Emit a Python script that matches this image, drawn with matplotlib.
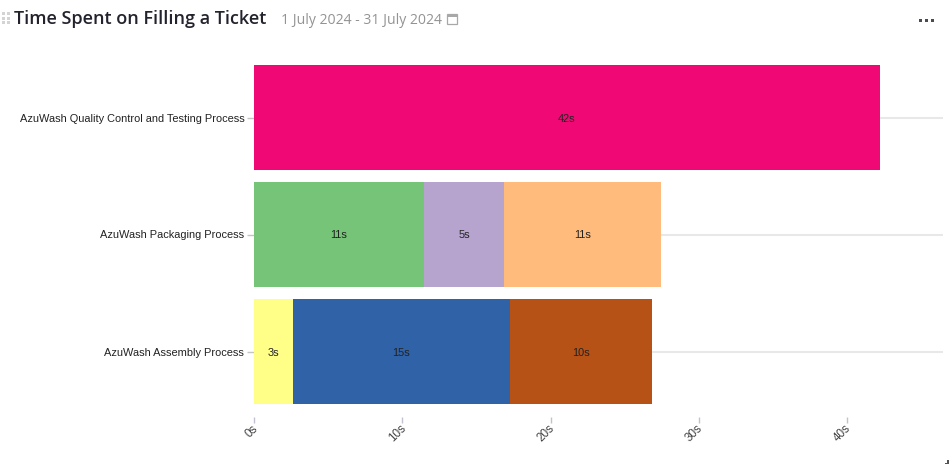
"""Time spent on filling a ticket - stacked horizontal bars."""

import matplotlib
matplotlib.use('Agg')
import matplotlib.pyplot as plt
from matplotlib.patches import Rectangle
from matplotlib.transforms import ScaledTranslation

W, H = 953, 468

# bottom to top
processes = ['AzuWash Assembly Process', 'AzuWash Packaging Process',
             'AzuWash Quality Control and Testing Process']
first_values = [2.63, 11.46, 42.2]
second_values = [14.6, 5.39, 0]
third_values = [9.6, 10.6, 0]
first_labels = ['3s', '11s', '42s']
second_labels = ['15s', '5s', '']
third_labels = ['10s', '11s', '']
first_colors = ['#ffff88', '#75c477', '#f00875']
second_colors = ['#3062a8', '#b6a4cf', '#ffffff']
third_colors = ['#b65216', '#febb7c', '#ffffff']
x_ticks = [0, 10, 20, 30, 40]
x_tick_labels = ['0s', '10s', '20s', '30s', '40s']

plt.rcParams['font.family'] = ['Liberation Sans', 'DejaVu Sans']

fig = plt.figure(figsize=(W / 100, H / 100), dpi=100)
ax = fig.add_axes([254 / W, 1 - 410 / H, 689 / W, 351 / H])

for spine in ax.spines.values():
    spine.set_visible(False)
# ticks sit a little under the plot area
ax.spines['bottom'].set_position(('outward', 5))

y = range(len(processes))
for i in y:
    ax.plot([0, 46.46], [i, i], color='#e8e8e8', lw=1.5, zorder=1, solid_capstyle='butt')

lefts = [0, 0, 0]
for vals, cols, labs in [(first_values, first_colors, first_labels),
                         (second_values, second_colors, second_labels),
                         (third_values, third_colors, third_labels)]:
    for i in y:
        if vals[i] == 0:
            continue
        ax.barh(i, vals[i], left=lefts[i], height=0.9, color=cols[i], zorder=2)
        ax.text(lefts[i] + vals[i] / 2, i, labs[i], ha='center', va='center_baseline',
                fontsize=7.9, color='#222222', zorder=3)
        lefts[i] += vals[i]

ax.set_xlim(0, 46.46)
ax.set_ylim(-0.5, 2.5)
ax.set_yticks(list(y))
ax.set_yticklabels(processes, fontsize=7.9, color='#222222', va='center_baseline')
ax.set_xticks(x_ticks)
ax.set_xticklabels(x_tick_labels, fontsize=8.4, color='#444444', rotation=45,
                   ha='right', rotation_mode='anchor')
ax.tick_params(axis='y', length=5, width=1, color='#c4c4c4', pad=2)
ax.tick_params(axis='x', length=4.5, width=1, color='#c4c0d0', pad=-0.5, direction='out')
nudge = ScaledTranslation(-2 / 100, 0, fig.dpi_scale_trans)
for lab in ax.get_xticklabels():
    lab.set_transform(lab.get_transform() + nudge)


def px(x, y_px):
    return x / W, 1 - y_px / H


# header
fig.text(*px(14, 19), 'Time Spent on Filling a Ticket', fontsize=13, fontweight='semibold',
         family=['Open Sans', 'DejaVu Sans'], color='#23232d', va='center')
fig.text(*px(281, 20.5), '1 July 2024 - 31 July 2024', fontsize=10.1,
         family=['Open Sans', 'DejaVu Sans'], color='#939393', va='center')

# calendar icon
fig.add_artist(Rectangle(px(447.5, 23.5), 10 / W, 9 / H, transform=fig.transFigure,
                         fill=False, ec='#a8a8a8', lw=0.9))
fig.add_artist(Rectangle(px(447.5, 17), 10 / W, 2.5 / H, transform=fig.transFigure,
                         fc='#a8a8a8', ec='none'))

# drag grip and menu dots
for gx in (4, 8.5):
    for gy in (13, 18, 22.5):
        fig.add_artist(Rectangle(px(gx - 1.5, gy + 1.5), 3 / W, 3 / H, transform=fig.transFigure,
                                 fc='#d4d4d4', ec='none'))
for dx in (921, 927, 933):
    fig.add_artist(Rectangle(px(dx - 1.5, 21.5), 3 / W, 3 / H, transform=fig.transFigure,
                             fc='#4a4a55', ec='none'))

# resize corner
fig.add_artist(Rectangle(px(945, 464), 4 / W, 1.5 / H, transform=fig.transFigure,
                         fc='#555555', ec='none'))
fig.add_artist(Rectangle(px(947.5, 464), 1.5 / W, 4 / H, transform=fig.transFigure,
                         fc='#555555', ec='none'))

fig.savefig('out.png', dpi=100)
